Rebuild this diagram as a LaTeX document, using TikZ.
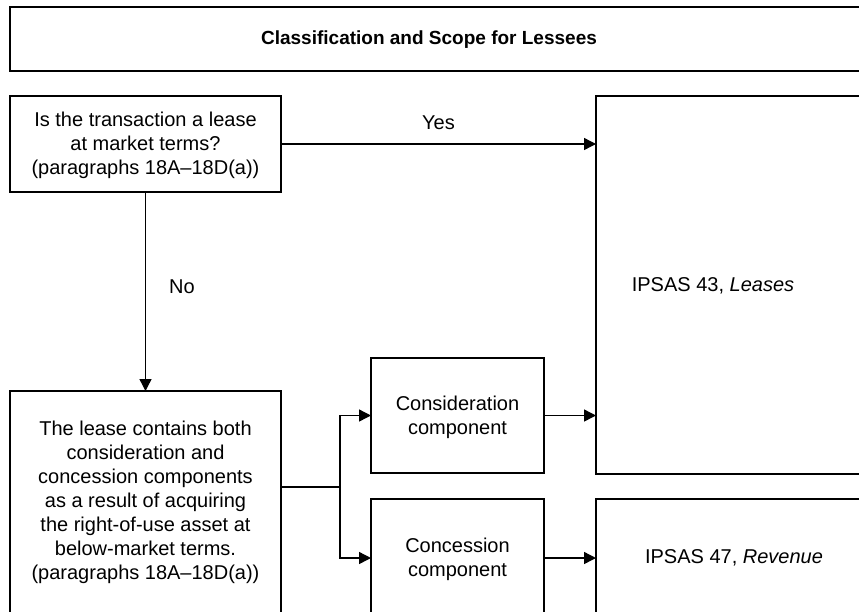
\documentclass[tikz,border=0pt]{standalone}
\usepackage{fontspec}
\setmainfont{Liberation Sans}
\usetikzlibrary{arrows.meta}
\tikzset{
  boxnode/.style={draw, line width=1.5pt, rectangle, inner sep=0pt, outer sep=0pt},
  txt/.style={align=center, inner sep=0pt, font=\fontsize{20}{24}\selectfont},
  arr/.style={line width=1.4pt, -{Triangle[length=12pt,width=12pt]}},
  ln/.style={line width=1.4pt},
}
\begin{document}
\begin{tikzpicture}[x=1pt,y=-1pt]
\useasboundingbox (0,0) rectangle (859,611);
\clip (0,0) rectangle (859,611);
\fill[white] (0,0) rectangle (859,611);
% boxes
\node[boxnode, minimum width=890pt, minimum height=64pt] (tbox) at (455,39) {};
\node[txt, font=\fontsize{19}{23}\selectfont\bfseries] (title) at (429,40) {Classification and Scope for Lessees};
\node[boxnode, minimum width=271pt, minimum height=96pt] (q) at (145.5,144) {};
\node[txt] (qt) at (145.5,145) {Is the transaction a lease\\at market terms?\\(paragraphs 18A–18D(a))};
\node[boxnode, minimum width=304pt, minimum height=378pt] (y43) at (748,285) {};
\node[txt] (y43t) at (713,286) {IPSAS 43, \textit{Leases}};
\node[boxnode, minimum width=271pt, minimum height=249pt] (lc) at (145.5,515.5) {};
\node[txt] (lct) at (145.5,502) {The lease contains both\\consideration and\\concession components\\as a result of acquiring\\the right-of-use asset at\\below-market terms.\\(paragraphs 18A–18D(a))};
\node[boxnode, minimum width=173pt, minimum height=115pt] (cons) at (457.5,415.5) {};
\node[txt] (const) at (457.5,417) {Consideration\\component};
\node[boxnode, minimum width=173pt, minimum height=118pt] (conc) at (457.5,558) {};
\node[txt] (conct) at (457.5,559) {Concession\\component};
\node[boxnode, minimum width=304pt, minimum height=118pt] (r47) at (748,558) {};
\node[txt] (r47t) at (734,558) {IPSAS 47, \textit{Revenue}};
% connectors
\draw[arr] (q.east) -- (q.east -| y43.west) node[midway, above=14pt, txt] (yes) {Yes};
\draw[arr] (q.south) -- (lc.north) node[pos=0.475, right=23pt, txt] (no) {No};
\coordinate (j) at (340,487);
\draw[ln] (j -| lc.east) -- (j);
\draw[arr] (j) |- (cons.west);
\draw[arr] (j) |- (conc.west);
\draw[arr] (cons.east) -- (cons.east -| y43.west);
\draw[arr] (conc.east) -- (r47.west);
\end{tikzpicture}
\end{document}
